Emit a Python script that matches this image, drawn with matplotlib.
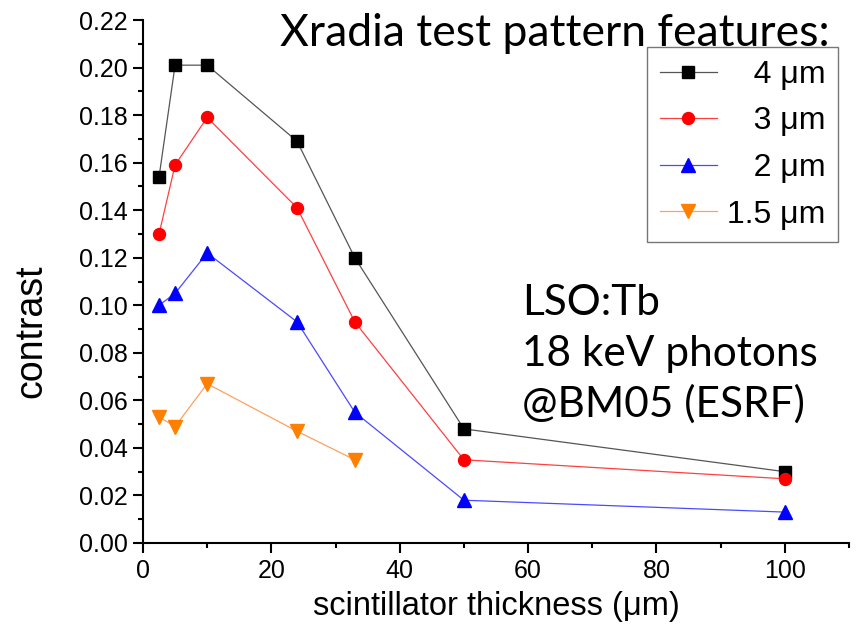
import numpy as np
import matplotlib
matplotlib.use('Agg')
import matplotlib.pyplot as plt
from matplotlib.ticker import MultipleLocator

# scintillator thickness (um)
thick = [2.5, 5, 10, 24, 33, 50, 100]
thick_15 = [2.5, 5, 10, 24, 33]

c4 = [0.154, 0.201, 0.201, 0.169, 0.120, 0.048, 0.030]
c3 = [0.130, 0.159, 0.179, 0.141, 0.093, 0.035, 0.027]
c2 = [0.100, 0.105, 0.122, 0.093, 0.055, 0.018, 0.013]
c15 = [0.053, 0.049, 0.067, 0.047, 0.035]

labels = ['   4 \u03bcm', '   3 \u03bcm', '   2 \u03bcm', '1.5 \u03bcm']
notes = ['LSO:Tb', '18 keV photons', '@BM05 (ESRF)']

plt.rcParams['font.family'] = ['Liberation Sans', 'DejaVu Sans']

fig = plt.figure(figsize=(8.58, 6.26), dpi=100)
ax = fig.add_axes([143/858, 1-543/626, (849-143)/858, (543-20)/626])

ax.plot(thick, c4, '-', color='#555555', lw=0.9, marker='s', ms=8,
        mfc='black', mec='black', label=labels[0])
ax.plot(thick, c3, '-', color='#ff4040', lw=0.9, marker='o', ms=8.6,
        mfc='red', mec='red', label=labels[1])
ax.plot(thick, c2, '-', color='#4a4aff', lw=0.9, marker='^', ms=10,
        mfc='blue', mec='blue', label=labels[2])
ax.plot(thick_15, c15, '-', color='#ffa060', lw=0.9, marker='v', ms=10,
        mfc='#ff7f00', mec='#ff7f00', label=labels[3])

ax.set_xlim(0, 110)
ax.set_ylim(0, 0.22)
ax.xaxis.set_major_locator(MultipleLocator(20))
ax.xaxis.set_minor_locator(MultipleLocator(10))
ax.yaxis.set_major_locator(MultipleLocator(0.02))
ax.yaxis.set_minor_locator(MultipleLocator(0.01))
ax.yaxis.set_major_formatter(lambda v, p: '%.2f' % v)

for s in ['top', 'right']:
    ax.spines[s].set_visible(False)
for s in ['left', 'bottom']:
    ax.spines[s].set_linewidth(1.5)
ax.tick_params(which='major', direction='out', length=7.2, width=1.5,
               labelsize=18, pad=4)
ax.tick_params(which='minor', direction='out', length=3.6, width=1.5)

ax.set_xlabel('scintillator thickness (\u03bcm)', fontsize=23.5, labelpad=6)
ax.set_ylabel('contrast', fontsize=27)
ax.yaxis.set_label_coords(-0.132, 0.405)

leg = ax.legend(loc='upper right', bbox_to_anchor=(838/858, 1-47/626),
                bbox_transform=fig.transFigure, fontsize=23, frameon=True,
                fancybox=False, edgecolor='#555555', handlelength=1.8,
                handletextpad=0.3, labelspacing=0.52, borderpad=0.4,
                borderaxespad=0)
leg.get_frame().set_linewidth(1.0)

fig.text(830/858, 1-46/626, 'Xradia test pattern features:', ha='right',
         va='baseline', fontsize=32, family=['Lato', 'DejaVu Sans'])
for i, base in enumerate([315, 366, 417]):
    fig.text(522/858, 1-base/626, notes[i], ha='left', va='baseline',
             fontsize=30.5, family=['Lato', 'DejaVu Sans'])

fig.savefig('out.png', dpi=100)
